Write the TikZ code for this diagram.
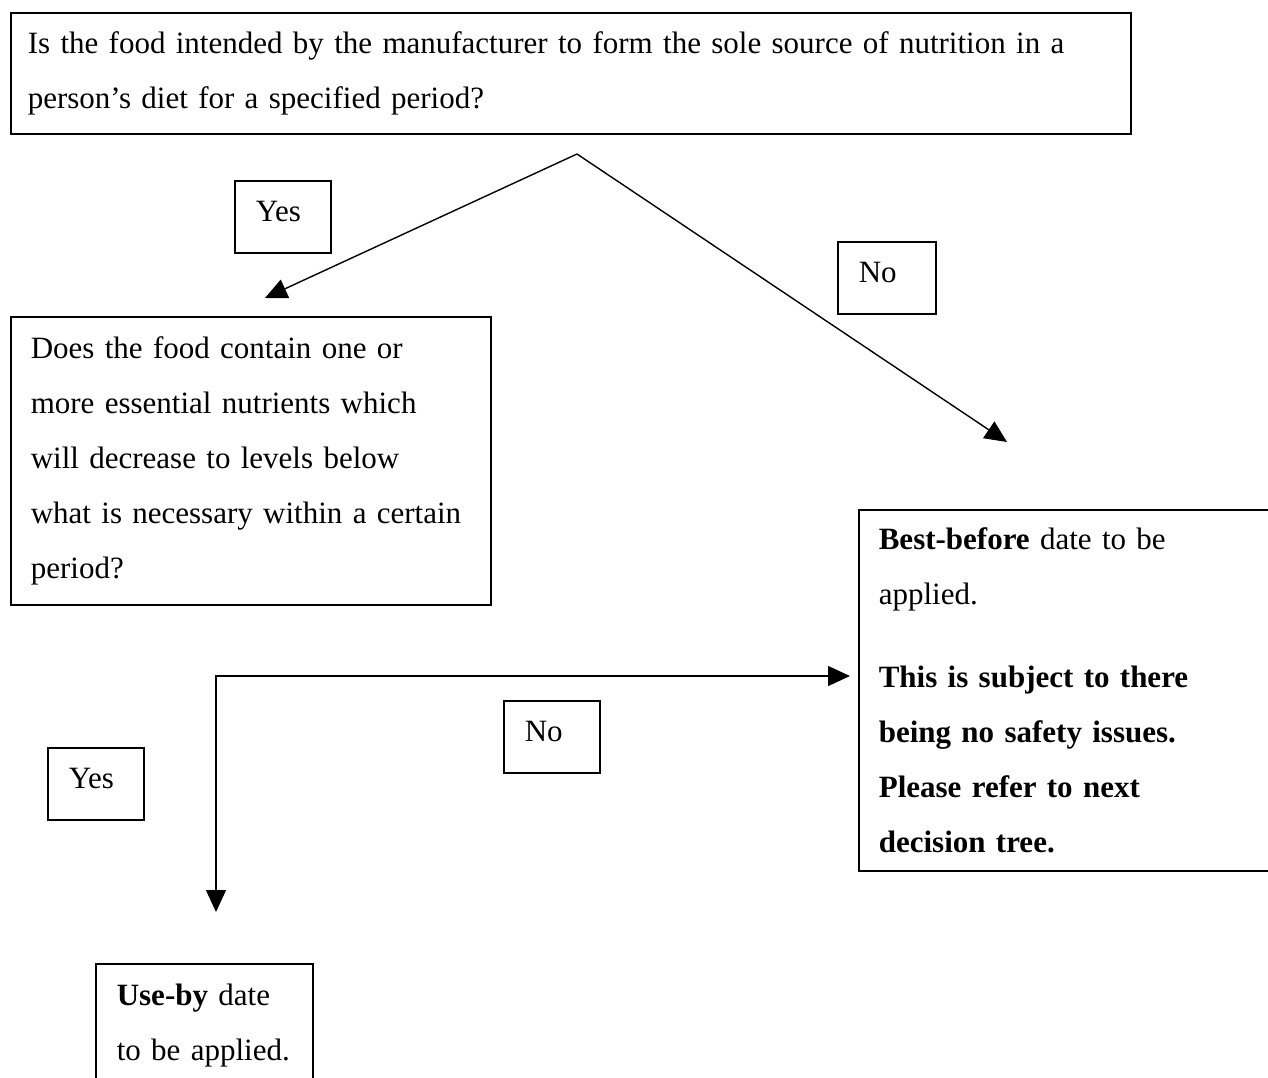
\documentclass[tikz,border=0pt]{standalone}
\usepackage{fontspec}
\setmainfont{Liberation Serif}
\usetikzlibrary{arrows.meta}

\tikzset{
  box/.style={draw, line width=0.8pt, font=\fontsize{15.5}{27.5}\selectfont,
    align=left, anchor=north west, inner ysep=0pt},
  answer/.style={draw, line width=0.8pt, font=\fontsize{15.5}{17}\selectfont,
    anchor=north west, align=left, text width=27pt, inner xsep=10.5pt,
    inner ysep=0pt, text height=20.1pt, text depth=15.9pt},
  flow/.style={line width=0.7pt, -{Triangle[length=11pt,width=10pt]}},
}

\begin{document}
\begin{tikzpicture}[x=0.5pt, y=-0.5pt]

    % Page frame (pixel units, y downwards)
    \clip (0,0) rectangle (1268,1077);

    % Question boxes
    \node[box, text width=543pt, inner xsep=8.5pt, minimum height=60.5pt] (sole) at (10,12)
      {Is the food intended by the manufacturer to form the sole source of nutrition in a\\
       person's diet for a specified period?};
    \node[box, text width=220pt, inner xsep=10pt, minimum height=144pt] (nutrient) at (10,316)
      {Does the food contain one or\\
       more essential nutrients which\\
       will decrease to levels below\\
       what is necessary within a certain\\
       period?};

    % Outcome boxes
    \node[box, text width=189pt, inner xsep=10pt, minimum height=180.5pt] (best) at (858,509)
      {\textbf{Best-before} date to be\\
       applied.\\[14pt]
       \textbf{This is subject to there}\\
       \textbf{being no safety issues.}\\
       \textbf{Please refer to next}\\
       \textbf{decision tree.}};
    \node[box, text width=87.5pt, inner xsep=10.5pt, minimum height=61.5pt] (useby) at (95,963)
      {\textbf{Use-by} date\\
       to be applied.};

    % Answer labels
    \node[answer] (yesA) at (234,180) {Yes};
    \node[answer, text width=28pt] (noA) at (837,241) {No};
    \node[answer] (yesB) at (47,747) {Yes};
    \node[answer] (noB) at (503,700) {No};

    % Arrow end points
    \coordinate (fork) at (577,154); % split below first question
    \coordinate (yesEnd) at (265,298);
    \coordinate (noEnd) at (1007,442);
    \coordinate (useEnd) at (216,912);
    \coordinate (bestEnd) at (850,676);

    % Arrows
    \draw[flow] (fork) -- (yesEnd);
    \draw[flow] (fork) -- (noEnd);
    \draw[flow, {Triangle[length=11pt,width=10pt]}-{Triangle[length=11pt,width=10pt]}]
      (useEnd) |- (bestEnd);

\end{tikzpicture}
\end{document}
